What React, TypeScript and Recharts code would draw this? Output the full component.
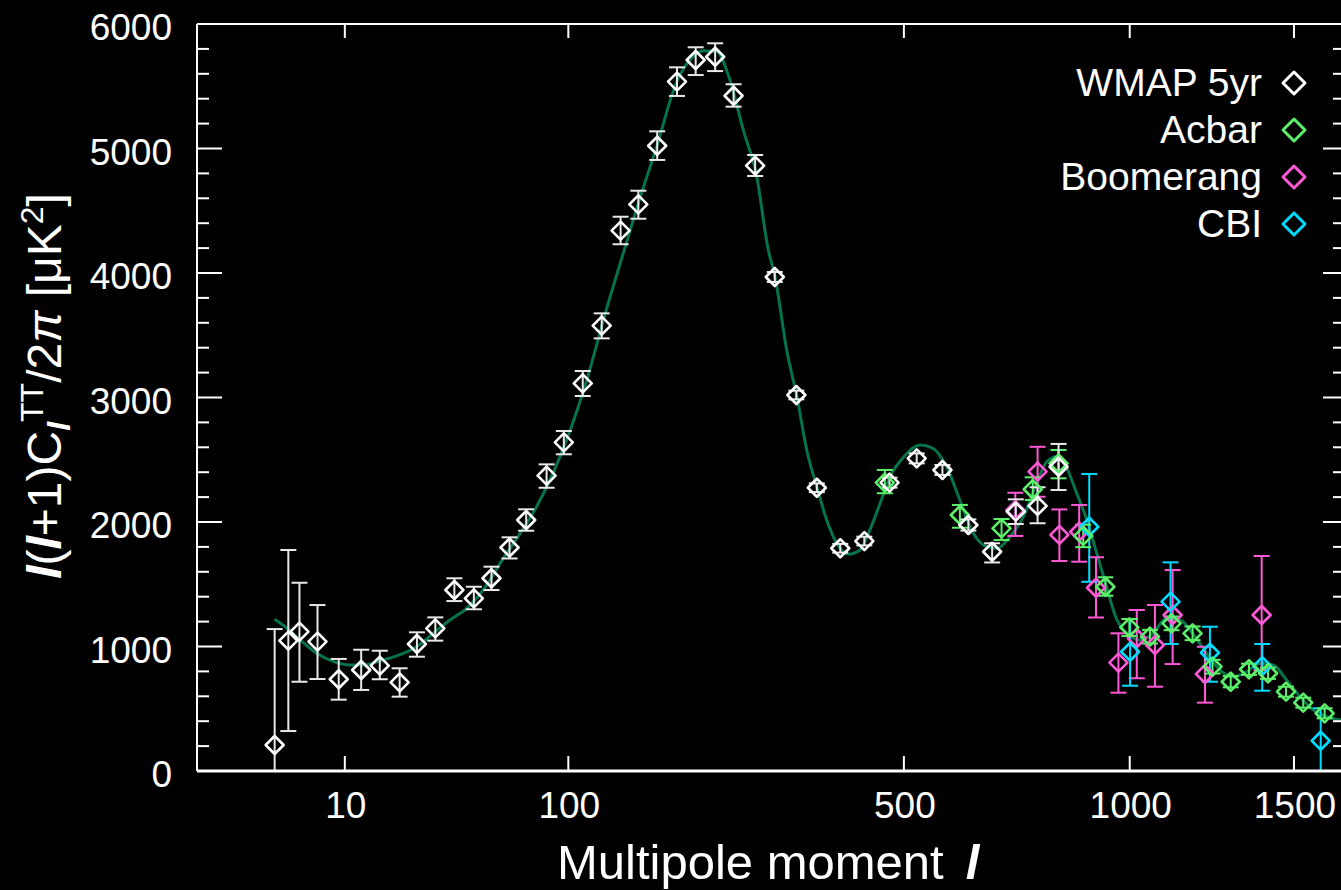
import React from 'react'
import {
  ComposedChart, Line, Scatter, ErrorBar, XAxis, YAxis, ReferenceLine,
} from 'recharts'

// multipole l -> axis coordinate (the plot uses an l^0.4 stretched axis)
const toU = (l: number) => Math.pow(l, 0.4)
const fromU = (u: number) => Math.round(Math.pow(u, 2.5))

const X_TICKS = [10, 100, 500, 1000, 1500]
const X_MAX_L = 1666
const Y_LABELS = [0, 1000, 2000, 3000, 4000, 5000, 6000]
const Y_MINOR_STEP = 200

// [l, value, error down, error up]
const WMAP: number[][] = [
  [2, 209, 209, 931], [3, 1047, 726, 728], [4, 1119, 402, 393], [6, 1039, 300, 294],
  [9, 737, 164, 163], [13, 811, 160, 163], [17, 846, 109, 120], [22, 712, 115, 113],
  [27, 1020, 102, 94], [33, 1146, 99, 88], [40, 1454, 89, 94], [48, 1387, 88, 93],
  [56, 1548, 94, 93], [65, 1795, 88, 82], [74, 2016, 86, 86], [86, 2372, 97, 91],
  [97, 2640, 96, 91], [110, 3114, 102, 99], [124, 3577, 102, 99], [139, 4340, 109, 112],
  [154, 4551, 115, 110], [171, 5022, 114, 116], [190, 5537, 115, 115], [209, 5711, 121, 102],
  [230, 5737, 115, 108], [251, 5424, 88, 92], [277, 4862, 83, 86], [302, 3968, 40, 40],
  [331, 3020, 35, 35], [360, 2275, 35, 35], [395, 1789, 35, 35], [433, 1847, 35, 35],
  [475, 2316, 40, 40], [523, 2511, 40, 40], [571, 2418, 40, 40], [622, 1976, 45, 45],
  [671, 1761, 86, 68], [722, 2083, 99, 99], [771, 2129, 139, 150], [820, 2444, 187, 183],
]

const ACBAR: number[][] = [
  [467, 2316, 85, 102], [605, 2056, 102, 81], [691, 1949, 94, 75], [760, 2263, 86, 96],
  [820, 2471, 120, 107], [880, 1888, 90, 90], [936, 1480, 72, 76], [999, 1154, 70, 67],
  [1055, 1079, 55, 55], [1116, 1186, 55, 55], [1177, 1106, 55, 55], [1237, 838, 55, 55],
  [1293, 717, 45, 45], [1351, 817, 45, 45], [1413, 785, 45, 45], [1473, 637, 40, 40],
  [1532, 549, 40, 40], [1607, 463, 40, 40],
]

const BOOMERANG: number[][] = [
  [721, 2096, 208, 139], [771, 2404, 201, 200], [822, 1896, 209, 205], [870, 1922, 241, 215],
  [912, 1472, 239, 245], [970, 870, 241, 236], [1019, 1066, 321, 227], [1069, 1012, 335, 321],
  [1119, 1253, 394, 361], [1214, 779, 230, 219], [1392, 1253, 442, 474],
]

const CBI: number[][] = [
  [895, 1962, 442, 424], [1001, 958, 273, 263], [1113, 1360, 340, 316],
  [1229, 950, 233, 209], [1394, 843, 198, 177], [1593, 243, 243, 261],
]

// best-fit model curve, [l, value]
const MODEL: number[][] = [
  [2, 1218], [2.9, 1146], [4, 1058], [5.9, 945], [8.2, 878], [10.9, 851], [13.4, 851],
  [17.1, 886], [21.2, 924], [26.9, 998], [32.3, 1106], [38.3, 1213], [45, 1307], [52.2, 1454],
  [60.2, 1668], [70.6, 1908], [80, 2123], [94.5, 2525], [110, 3034], [130, 3790], [140, 4120],
  [154, 4560], [170.5, 5015], [189.7, 5536], [203, 5711], [217, 5786], [231.7, 5778],
  [246.8, 5550], [262.5, 5149], [279, 4774], [293.6, 4185], [302.3, 3971], [317.8, 3381],
  [332, 3000], [345.5, 2578], [359.9, 2284], [374.5, 2016], [389.6, 1829], [407, 1740],
  [426, 1775], [442, 1936], [459, 2150], [476, 2364], [500, 2525], [529, 2618], [553, 2592],
  [579, 2444], [605, 2177], [632, 1909], [659, 1802], [681, 1788], [709, 1882], [739, 2043],
  [769, 2311], [792, 2484], [816, 2525], [840, 2431], [864, 2230], [889, 2016], [914, 1749],
  [939, 1480], [966, 1213], [992, 1106], [1028, 1052], [1064, 1106], [1101, 1225],
  [1140, 1213], [1177, 1106], [1219, 945], [1260, 811], [1301, 757], [1343, 797],
  [1387, 865], [1430, 851], [1475, 731], [1521, 597], [1567, 490], [1614, 436], [1666, 410],
]

const SERIES = [
  { name: 'WMAP 5yr', rows: WMAP, color: '#ffffff', bar: '#e8e8e8' },
  { name: 'Acbar', rows: ACBAR, color: '#5cf06a', bar: '#5cf06a' },
  { name: 'Boomerang', rows: BOOMERANG, color: '#ff58d6', bar: '#ff58d6' },
  { name: 'CBI', rows: CBI, color: '#00dcff', bar: '#00dcff' },
]
// drawing order, last on top
const DRAW_ORDER = ['Boomerang', 'CBI', 'Acbar', 'WMAP 5yr']

const W = 1341
const H = 890
const PLOT_LEFT = 197
const PLOT_RIGHT = 1341
const PLOT_TOP = 24
const PLOT_BOTTOM = 771
const FONT = '"Liberation Sans", Arial, Helvetica, sans-serif'
const CURVE_COLOR = '#06734a'

const yTicks: number[] = []
for (let v = 0; v <= 6000; v += Y_MINOR_STEP) yTicks.push(v)

const modelData = MODEL.map(([l, v]) => ({ u: toU(l), v }))

function toPoints(rows: number[][]) {
  return rows.map(([l, v, lo, hi]) => ({ u: toU(l), v, err: [lo, hi] }))
}

function diamond(color: string, r: number) {
  return (props: any) => {
    const { cx, cy } = props
    if (cx == null || cy == null) return <g />
    return (
      <path
        d={`M${cx},${cy - r}L${cx + r},${cy}L${cx},${cy + r}L${cx - r},${cy}Z`}
        fill="none"
        stroke={color}
        strokeWidth={2.6}
        strokeLinejoin="round"
      />
    )
  }
}

function XTick(props: any) {
  const { x, payload } = props
  return (
    <g>
      <line x1={x} x2={x} y1={PLOT_BOTTOM} y2={PLOT_BOTTOM - 15} stroke="#fff" strokeWidth={2} />
      <line x1={x} x2={x} y1={PLOT_TOP} y2={PLOT_TOP + 14} stroke="#fff" strokeWidth={2} />
      <text x={x + 1} y={818} textAnchor="middle" fill="#fff" fontSize={37} fontFamily={FONT}>
        {fromU(payload.value)}
      </text>
    </g>
  )
}

function YTick(props: any) {
  const { y, payload } = props
  const major = payload.value % 1000 === 0
  return (
    <g>
      <line x1={PLOT_LEFT} x2={PLOT_LEFT + (major ? 25 : 12)} y1={y} y2={y} stroke="#fff" strokeWidth={2} />
      <line x1={PLOT_RIGHT} x2={PLOT_RIGHT - (major ? 18 : 8)} y1={y} y2={y} stroke="#fff" strokeWidth={2} />
      {major && Y_LABELS.includes(payload.value) && (
        <text x={172} y={y + 16} textAnchor="end" fill="#fff" fontSize={37} fontFamily={FONT}>
          {payload.value}
        </text>
      )}
    </g>
  )
}

const ell = { fontStyle: 'italic' as const, fontWeight: 700 }

function XTitle() {
  return (
    <text x={557} y={879} fill="#fff" fontSize={49} fontFamily={FONT}>
      Multipole moment
      <tspan dx={22} style={ell}>l</tspan>
    </text>
  )
}

function YTitle() {
  const cx = 61
  const cy = 386
  return (
    <text
      x={cx}
      y={cy}
      transform={`rotate(-90, ${cx}, ${cy})`}
      textAnchor="middle"
      fill="#fff"
      fontSize={48}
      fontFamily={FONT}
    >
      <tspan style={ell}>l</tspan>
      <tspan>(</tspan>
      <tspan style={ell}>l</tspan>
      <tspan>+1)C</tspan>
      <tspan dy={9} fontSize={32} style={ell}>l</tspan>
      <tspan dy={-27} fontSize={32}>TT</tspan>
      <tspan dy={18}>/2</tspan>
      <tspan fontStyle="italic">π</tspan>
      <tspan> [μK</tspan>
      <tspan dy={-18} fontSize={32}>2</tspan>
      <tspan dy={18}>]</tspan>
    </text>
  )
}

function LegendBox() {
  return (
    <svg width={W} height={H} style={{ position: 'absolute', left: 0, top: 0, pointerEvents: 'none' }}>
      {SERIES.map((s, i) => {
        const cy = 83 + i * 47
        const r = 11
        return (
          <g key={s.name}>
            <text x={1262} y={cy + 13} textAnchor="end" fill="#fff" fontSize={39} fontFamily={FONT}>
              {s.name}
            </text>
            <path
              d={`M1294,${cy - r}L${1294 + r},${cy}L1294,${cy + r}L${1294 - r},${cy}Z`}
              fill="none"
              stroke={s.color}
              strokeWidth={3}
              strokeLinejoin="round"
            />
          </g>
        )
      })}
    </svg>
  )
}

export default function App() {
  const ordered = DRAW_ORDER.map((n) => SERIES.find((s) => s.name === n)!)
  return (
    <div style={{ position: 'absolute', left: 0, top: 0, width: W, height: H, background: '#000', overflow: 'hidden' }}>
      <ComposedChart width={W} height={H} margin={{ top: PLOT_TOP, right: W - PLOT_RIGHT, bottom: H - PLOT_BOTTOM - 30, left: PLOT_LEFT - 60 }}>
        <XAxis
          type="number"
          dataKey="u"
          domain={[0, toU(X_MAX_L)]}
          ticks={X_TICKS.map(toU)}
          interval={0}
          allowDataOverflow
          height={30}
          tick={<XTick />}
          tickLine={false}
          axisLine={{ stroke: '#fff', strokeWidth: 3 }}
          label={{ content: XTitle }}
        />
        <YAxis
          type="number"
          domain={[0, 6000]}
          ticks={yTicks}
          interval={0}
          allowDataOverflow
          width={60}
          tick={<YTick />}
          tickLine={false}
          axisLine={{ stroke: '#fff', strokeWidth: 2 }}
          label={{ content: YTitle }}
        />
        <ReferenceLine y={6000} stroke="#fff" strokeWidth={2} />
        <Line
          data={modelData}
          dataKey="v"
          type="monotone"
          stroke={CURVE_COLOR}
          strokeWidth={3}
          dot={false}
          activeDot={false}
          isAnimationActive={false}
        />
        {ordered.map((s) => (
          <Scatter
            key={s.name}
            name={s.name}
            data={toPoints(s.rows)}
            dataKey="v"
            shape={diamond(s.color, 9)}
            isAnimationActive={false}
          >
            <ErrorBar dataKey="err" direction="y" width={8} stroke={s.bar} strokeWidth={2} isAnimationActive={false} />
          </Scatter>
        ))}
      </ComposedChart>
      <LegendBox />
    </div>
  )
}
